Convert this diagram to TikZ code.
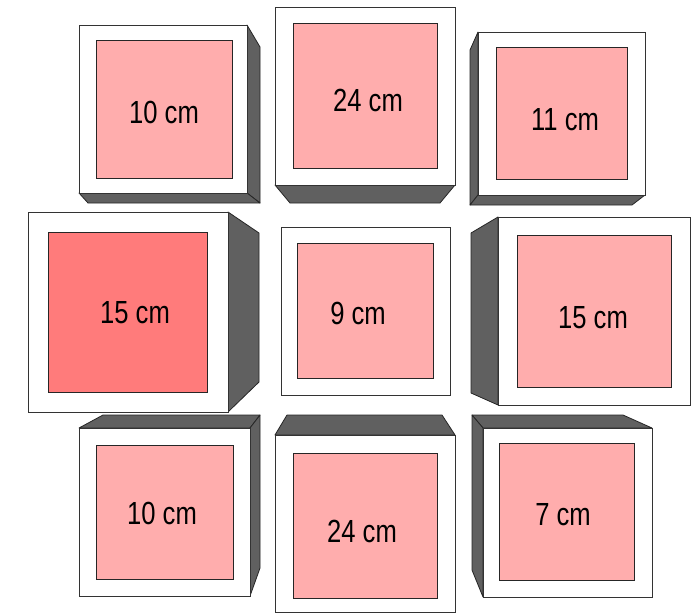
\documentclass[tikz,border=0pt]{standalone}
\usepackage{fontspec}
\setmainfont[FakeStretch=0.8]{Liberation Sans}
\usepackage{tikz}
\definecolor{sidegray}{HTML}{606060}
\definecolor{pinklight}{HTML}{FFADAD}
\definecolor{pinkdark}{HTML}{FF7B7B}

\begin{document}
\begin{tikzpicture}[
      x=1pt, y=-1pt,
      side/.style={fill=sidegray, draw=black!85, line width=0.8pt, line join=round},
      front/.style={fill=white, draw=black!80, line width=1pt},
      panel/.style={draw=black!85, line width=1pt},
      size/.style={font=\fontsize{32}{36}\selectfont, inner sep=0pt}
    ]
    \useasboundingbox[fill=white] (0,0) rectangle (692,613);

    % ---- depth faces (drawn first, fronts cover them) ----
    % top row
    \filldraw[side] (247,25) -- (260,47) -- (260,203) -- (247,193) -- cycle;
    \filldraw[side] (79,193) -- (247,193) -- (260,203) -- (88,203) -- cycle;
    \filldraw[side] (275,185) -- (455,185) -- (440,203) -- (290,203) -- cycle;
    \filldraw[side] (478,32) -- (470,50) -- (470,205) -- (478,195) -- cycle;
    \filldraw[side] (478,195) -- (645,195) -- (632,205) -- (470,205) -- cycle;
    % middle row
    \filldraw[side] (228,212) -- (259,233) -- (259,382) -- (228,412) -- cycle;
    \filldraw[side] (498,217) -- (471,233) -- (471,393) -- (498,405) -- cycle;
    % bottom row
    \filldraw[side] (79,428) -- (103,415) -- (260,415) -- (250,428) -- cycle;
    \filldraw[side] (250,428) -- (260,415) -- (260,568) -- (250,596) -- cycle;
    \filldraw[side] (275,435) -- (287,415) -- (442,415) -- (455,435) -- cycle;
    \filldraw[side] (483,428) -- (472,415) -- (623,415) -- (652,428) -- cycle;
    \filldraw[side] (483,428) -- (472,415) -- (472,570) -- (483,597) -- cycle;

    % ---- front faces, pink panels and sizes ----
    \foreach \n/\ax/\ay/\bx/\by/\cx/\cy/\dx/\dy/\lx/\ly/\col/\txt in {
        tl/79/25/247/193/96/40/232/178/164/112/pinklight/10 cm,
        tc/275/7/455/185/293/23/437/168/368/100/pinklight/24 cm,
        tr/478/32/645/195/496/47/627/179/565/120/pinklight/11 cm,
        ml/28/212/228/412/48/232/207/392/135/313/pinkdark/15 cm,
        mc/281/227/450/395/297/243/433/378/358/313/pinklight/9 cm,
        mr/498/217/690/405/517/235/671/387/593/318/pinklight/15 cm,
        bl/79/428/250/596/96/445/233/579/162/513/pinklight/10 cm,
        bc/275/435/455/612/293/453/437/598/362/531/pinklight/24 cm,
        br/483/428/652/597/499/443/634/580/563/515/pinklight/7 cm} {
      \draw[front] (\ax,\ay) rectangle (\bx,\by);
      \draw[panel, fill=\col] (\cx,\cy) rectangle (\dx,\dy);
      \node[size] (\n) at (\lx,\ly) {\txt};
    }
  \end{tikzpicture}
\end{document}
